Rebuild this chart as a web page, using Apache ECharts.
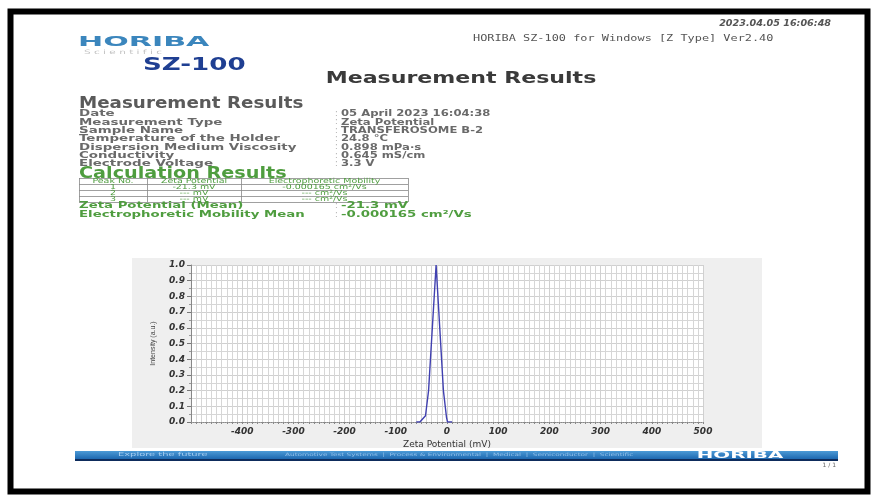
<!DOCTYPE html>
<html>
<head>
<meta charset="utf-8">
<script src="https://cdn.jsdelivr.net/npm/echarts@6/dist/echarts.min.js"></script>
<style>html,body{margin:0;padding:0;background:#fff}#c{width:876px;height:497px}</style>
</head>
<body>
<div id="c"></div>
<script>
// ---- data ----
var zetaMV = [-60, -53, -42, -36, -21.3, -7, -1, 1, 10];
var intensity = [0, 0, 0.04, 0.2, 1.0, 0.2, 0.03, 0, 0];
var xTicks = [-500, -400, -300, -200, -100, 0, 100, 200, 300, 400, 500];
var yTicks = [0.0, 0.1, 0.2, 0.3, 0.4, 0.5, 0.6, 0.7, 0.8, 0.9, 1.0];
var infoLabels = ['Date', 'Measurement Type', 'Sample Name', 'Temperature of the Holder', 'Dispersion Medium Viscosity', 'Conductivity', 'Electrode Voltage'];
var infoValues = ['05 April 2023 16:04:38', 'Zeta Potential', 'TRANSFEROSOME B-2', '24.8 \u00B0C', '0.898 mPa\u00B7s', '0.645 mS/cm', '3.3 V'];
var tableHeader = ['Peak No.', 'Zeta Potential', 'Electrophoretic Mobility'];
var tablePeak = ['1', '2', '3'];
var tableZeta = ['-21.3 mV', '--- mV', '--- mV'];
var tableMob = ['-0.000165 cm\u00B2/Vs', '--- cm\u00B2/Vs', '--- cm\u00B2/Vs'];
var meanLabels = ['Zeta Potential (Mean)', 'Electrophoretic Mobility Mean'];
var meanValues = ['-21.3 mV', '-0.000165 cm\u00B2/Vs'];

var F = '"DejaVu Sans", Verdana, sans-serif';
var chart = echarts.init(document.getElementById('c'), null, {renderer: 'canvas'});
var g = [];
function txt(x, y, s, o) {
  o = o || {};
  g.push({type: 'text', x: x, y: y, scaleX: o.sx || 1, z: 10, silent: true, style: {
    text: s, fill: o.c || '#555', font: (o.st || '') + ' ' + (o.w || 'bold') + ' ' + (o.s || 10) + 'px ' + (o.f || F),
    textAlign: o.a || 'left', textVerticalAlign: 'middle'}});
}
// border and panel
g.push({type: 'rect', z: 0, silent: true, shape: {x: 132, y: 258, width: 630, height: 190}, style: {fill: '#efefef'}});
g.push({type: 'rect', z: 20, silent: true, shape: {x: 10.5, y: 11.5, width: 857, height: 480}, style: {fill: null, stroke: '#000', lineWidth: 6}});
// header
txt(78, 42, 'HORIBA', {c: '#3b86bd', s: 14, w: 900, sx: 2.15});
txt(84, 52, 'S c i e n t i f i c', {c: '#c4c4c4', s: 6, w: 'normal', sx: 1.75});
txt(143, 65, 'SZ-100', {c: '#1f3f92', s: 18, w: 'bold', sx: 1.45});
txt(831, 24, '2023.04.05 16:06:48', {c: '#555', s: 8, w: 'bold', st: 'italic', a: 'right', sx: 1.2});
txt(473, 39, 'HORIBA SZ-100 for Windows [Z Type] Ver2.40', {c: '#555', s: 9, w: 'normal', f: '"DejaVu Sans Mono", monospace', sx: 1.32});
txt(461, 79, 'Measurement Results', {c: '#3a3a3a', s: 16, w: 'bold', a: 'center', sx: 1.38});
// measurement section
txt(79, 104, 'Measurement Results', {c: '#5a5a5a', s: 15, sx: 1.22});
for (var i = 0; i < infoLabels.length; i++) {
  var yy = 114 + i * 8.3;
  txt(79, yy, infoLabels[i], {c: '#6a6a6a', s: 9, sx: 1.49});
  txt(335, yy, ':', {c: '#aaa', s: 8, w: 'normal'});
  txt(341, yy, infoValues[i], {c: '#6a6a6a', s: 9, sx: 1.29});
}
txt(79, 174, 'Calculation Results', {c: '#4f9d3f', s: 15, sx: 1.28});
// table
var tx = [79, 147, 241, 408], ty = [178, 184, 190, 196, 202];
for (var r = 0; r < ty.length; r++) g.push({type: 'line', z: 10, silent: true, shape: {x1: tx[0], y1: ty[r] + 0.5, x2: tx[3], y2: ty[r] + 0.5}, style: {stroke: '#888', lineWidth: 0.8}});
for (var k = 0; k < tx.length; k++) g.push({type: 'line', z: 10, silent: true, shape: {x1: tx[k] + 0.5, y1: ty[0], x2: tx[k] + 0.5, y2: ty[4]}, style: {stroke: '#888', lineWidth: 0.8}});
for (var k = 0; k < 3; k++) txt((tx[k] + tx[k + 1]) / 2, 181, tableHeader[k], {c: '#4f9d3f', s: 7, w: 'normal', a: 'center', sx: 1.35});
for (var r = 0; r < 3; r++) {
  var yy = 187 + r * 6;
  txt((tx[0] + tx[1]) / 2, yy, tablePeak[r], {c: '#4f9d3f', s: 7, w: 'normal', a: 'center', sx: 1.35});
  txt((tx[1] + tx[2]) / 2, yy, tableZeta[r], {c: '#4f9d3f', s: 7, w: 'normal', a: 'center', sx: 1.35});
  txt((tx[2] + tx[3]) / 2, yy, tableMob[r], {c: '#4f9d3f', s: 7, w: 'normal', a: 'center', sx: 1.35});
}
for (var i = 0; i < meanLabels.length; i++) {
  var yy = 206 + i * 8.5;
  txt(79, yy, meanLabels[i], {c: '#4f9d3f', s: 9.5, sx: 1.4});
  txt(335, yy, ':', {c: '#aaa', s: 8, w: 'normal'});
  txt(341, yy, meanValues[i], {c: '#4f9d3f', s: 9.5, sx: 1.4});
}
// footer
g.push({type: 'rect', z: 10, silent: true, shape: {x: 75, y: 451, width: 763, height: 8}, style: {fill: new echarts.graphic.LinearGradient(0, 0, 0, 1, [{offset: 0, color: '#4c9ad6'}, {offset: 1, color: '#1d68b0'}])}});
g.push({type: 'rect', z: 10, silent: true, shape: {x: 75, y: 459, width: 763, height: 2}, style: {fill: '#0e2c5c'}});
txt(118, 455, 'Explore the future', {c: '#a6cdf0', s: 5.5, w: 'normal', sx: 1.8});
txt(285, 455, 'Automotive Test Systems  |  Process & Environmental  |  Medical  |  Semiconductor  |  Scientific', {c: '#93c0ea', s: 4.5, w: 'normal', sx: 1.63});
txt(740, 455.5, 'HORIBA', {c: '#fff', s: 9, w: 900, a: 'center', sx: 2.2});
txt(836, 465, '1 / 1', {c: '#666', s: 6, w: 'normal', a: 'right'});

var lab = {color: '#333', fontStyle: 'italic', fontWeight: 'bold', fontSize: 9, fontFamily: F};
chart.setOption({
  animation: false,
  backgroundColor: '#fff',
  graphic: g,
  grid: {left: 191, right: 173, top: 265, bottom: 75, show: true, backgroundColor: '#fff', borderWidth: 0, z: 2},
  xAxis: {type: 'value', z: 3, min: xTicks[0], max: xTicks[xTicks.length - 1], interval: 100,
    name: 'Zeta Potential (mV)', nameLocation: 'middle', nameGap: 18,
    nameTextStyle: {color: '#333', fontSize: 9, fontFamily: F},
    axisLine: {show: true, onZero: false, lineStyle: {color: '#888', width: 1, type: 'dotted'}},
    axisTick: {show: true, length: 2, lineStyle: {color: '#888'}},
    minorTick: {show: true, splitNumber: 10, length: 2, lineStyle: {color: '#888'}},
    splitLine: {show: true, lineStyle: {color: '#d0d0d0', width: 1}},
    minorSplitLine: {show: true, lineStyle: {color: '#d6d6d6', width: 1}},
    axisLabel: Object.assign({showMinLabel: false, margin: 5}, lab)},
  yAxis: {type: 'value', z: 3, min: yTicks[0], max: yTicks[yTicks.length - 1], interval: 0.1,
    name: 'Intensity (a.u.)', nameLocation: 'middle', nameGap: 34, nameRotate: 90,
    nameTextStyle: {color: '#444', fontSize: 7, fontFamily: 'Arial, "Liberation Sans", sans-serif'},
    axisLine: {show: true, onZero: false, lineStyle: {color: '#888'}},
    axisTick: {show: true, length: 4, lineStyle: {color: '#777'}},
    minorTick: {show: true, splitNumber: 2, length: 2, lineStyle: {color: '#999'}},
    splitLine: {show: true, lineStyle: {color: '#d0d0d0'}},
    minorSplitLine: {show: true, lineStyle: {color: '#d6d6d6'}},
    axisLabel: Object.assign({margin: 6, formatter: function (v) { return v.toFixed(1); }}, lab)},
  series: [{type: 'line', data: zetaMV.map(function (x, i) { return [x, intensity[i]]; }),
    showSymbol: false, symbol: 'none', smooth: false, z: 5,
    lineStyle: {color: '#4040b0', width: 1.4}}]
});
</script>
</body>
</html>
